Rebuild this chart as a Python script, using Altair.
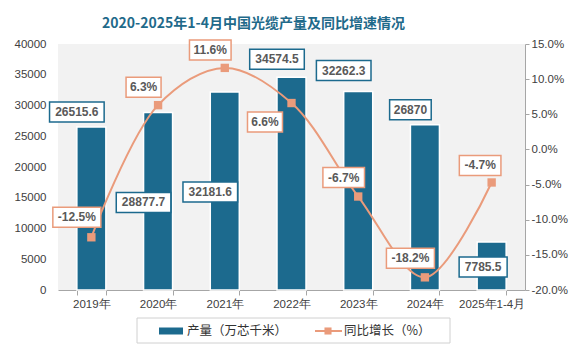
import altair as alt
import pandas as pd

# ---- data ----
years = ["2019年", "2020年", "2021年", "2022年", "2023年", "2024年", "2025年1-4月"]
output = [26515.6, 28877.7, 32181.6, 34574.5, 32262.3, 26870, 7785.5]
growth = [-12.5, 6.3, 11.6, 6.6, -6.7, -18.2, -4.7]

# ---- label placement (pixels, layout only) ----
bar_lbl_dy = [-15, 90, 100, -18, -21, -15, 25]
bar_lbl_dx = [0, 0, 0, 0, 0, 0, 6]
line_lbl_dy = [-20, -18, -18, 19, -19, -19, -17]
line_lbl_dx = [0, 0, 0, -12, 0, 0, 3]

PLOT_W, PLOT_H = 467, 246
L_DOM = [0, 40000]
R_DOM = [-20, 15]
k_left = (L_DOM[1] - L_DOM[0]) / PLOT_H
k_right = (R_DOM[1] - R_DOM[0]) / PLOT_H

BLUE = "#1C6A8E"
ORANGE = "#EA9B7B"
TXT = "#595959"


def fmt_num(v):
    return f"{v:g}"


def box_path(text):
    hw = (6.5 * len(text) + 9) / 2 / 10
    return f"M{-hw:.2f},-1H{hw:.2f}V1H{-hw:.2f}Z"


df = pd.DataFrame({"year": years, "output": output, "growth": growth})
df["out_lbl"] = [fmt_num(v) for v in output]
df["gr_lbl"] = [f"{v:.1f}%" for v in growth]
df["out_y"] = [v - dy * k_left for v, dy in zip(output, bar_lbl_dy)]
df["gr_y"] = [v - dy * k_right for v, dy in zip(growth, line_lbl_dy)]
df["out_dx"] = bar_lbl_dx
df["gr_dx"] = line_lbl_dx
df["out_path"] = [box_path(t) for t in df["out_lbl"]]
df["gr_path"] = [box_path(t) for t in df["gr_lbl"]]

x_enc = alt.X(
    "year:N",
    sort=years,
    title=None,
    scale=alt.Scale(paddingInner=0.565, paddingOuter=0.2825),
    axis=alt.Axis(labelAngle=0, tickBand="extent", tickSize=5, labelPadding=3,
                  domainColor="#a6a6a6", tickColor="#a6a6a6"),
)

base = alt.Chart(df).encode(x=x_enc)

yl = alt.Scale(domain=L_DOM, nice=False, zero=False)
yr = alt.Scale(domain=R_DOM, nice=False, zero=False)

left_axis = alt.Axis(values=list(range(0, 40001, 5000)), domain=False, ticks=False,
                     tickSize=0, labelPadding=12, format="d", title=None)
right_axis = alt.Axis(orient="right", values=list(range(-20, 16, 5)),
                      labelExpr="replace(format(datum.value, '.1f'), '\u2212', '-') + '%'",
                      domain=True, ticks=True, tickSize=4, labelPadding=2,
                      domainColor="#a6a6a6", tickColor="#a6a6a6", title=None)

bars = base.mark_bar(color=BLUE, stroke="white", strokeWidth=1.5).encode(
    y=alt.Y("output:Q", scale=yl, title=None, axis=left_axis)
)
bar_boxes = base.mark_point(filled=True, fill="white", stroke=BLUE, strokeWidth=1.5,
                            opacity=1, fillOpacity=1, size=400).encode(
    y=alt.Y("out_y:Q", scale=yl, title=None, axis=left_axis),
    xOffset=alt.XOffset("out_dx:Q", scale=None),
    shape=alt.Shape("out_path:N", scale=None, legend=None),
)
bar_texts = base.mark_text(font="Liberation Sans", fontWeight="bold", fontSize=12,
                           color=TXT, baseline="middle").encode(
    y=alt.Y("out_y:Q", scale=yl, title=None, axis=left_axis),
    xOffset=alt.XOffset("out_dx:Q", scale=None),
    text="out_lbl:N",
)
left = alt.layer(bars, bar_boxes, bar_texts)

line = base.mark_line(color=ORANGE, strokeWidth=2, interpolate="catmull-rom").encode(
    y=alt.Y("growth:Q", scale=yr, title=None, axis=right_axis)
)
pts = base.mark_point(shape="square", filled=True, size=70, color=ORANGE, opacity=1).encode(
    y=alt.Y("growth:Q", scale=yr, title=None, axis=right_axis)
)
gr_boxes = base.mark_point(filled=True, fill="white", stroke=ORANGE, strokeWidth=1.5,
                           opacity=1, fillOpacity=1, size=400).encode(
    y=alt.Y("gr_y:Q", scale=yr, title=None, axis=right_axis),
    xOffset=alt.XOffset("gr_dx:Q", scale=None),
    shape=alt.Shape("gr_path:N", scale=None, legend=None),
)
gr_texts = base.mark_text(font="Liberation Sans", fontWeight="bold", fontSize=12,
                          color=TXT, baseline="middle").encode(
    y=alt.Y("gr_y:Q", scale=yr, title=None, axis=right_axis),
    xOffset=alt.XOffset("gr_dx:Q", scale=None),
    text="gr_lbl:N",
)
right = alt.layer(line, pts, gr_boxes, gr_texts)

# ---- manual legend ----
one = alt.Chart(pd.DataFrame({"k": [0]}))
leg_box = one.mark_rect(fill="white", stroke="#d0d0d0", strokeWidth=1).encode(
    x=alt.value(79), x2=alt.value(392), y=alt.value(274), y2=alt.value(299))
leg_bar = one.mark_rect(color=BLUE).encode(
    x=alt.value(101), x2=alt.value(125), y=alt.value(283.5), y2=alt.value(290.5))
leg_bar_txt = one.mark_text(text="产量（万芯千米）", font="Noto Sans CJK SC", fontSize=12.5,
                            color="#333333", align="left", baseline="middle").encode(
    x=alt.value(129), y=alt.value(287))
leg_line = one.mark_rule(color=ORANGE, strokeWidth=2).encode(
    x=alt.value(257), x2=alt.value(284), y=alt.value(287))
leg_pt = one.mark_point(shape="square", filled=True, size=50, color=ORANGE, opacity=1).encode(
    x=alt.value(270), y=alt.value(287))
leg_line_txt = one.mark_text(text="同比增长（%）", font="Noto Sans CJK SC", fontSize=12.5,
                             color="#333333", align="left", baseline="middle").encode(
    x=alt.value(286), y=alt.value(287))

chart = alt.layer(
    left, right, leg_box, leg_bar, leg_bar_txt, leg_line, leg_pt, leg_line_txt
).resolve_scale(y="independent").properties(
    width=PLOT_W,
    height=PLOT_H,
    autosize=alt.AutoSizeParams(type="none"),
    padding={"left": 50, "top": 36, "right": 55, "bottom": 60},
    background="white",
    title=alt.Title(
        "2020-2025年1-4月中国光缆产量及同比增速情况",
        font="Noto Sans CJK SC", fontSize=14, fontWeight="bold", color="#1F6A8A",
        anchor="middle", dx=-38, offset=6,
    ),
).configure_view(stroke=None, fill="#f2f2f2").configure_axis(
    labelFont="Liberation Sans", labelFontSize=11.5, labelColor="#404040", grid=False
)

chart.save("out.html", embed_options={"renderer": "svg", "actions": False})
